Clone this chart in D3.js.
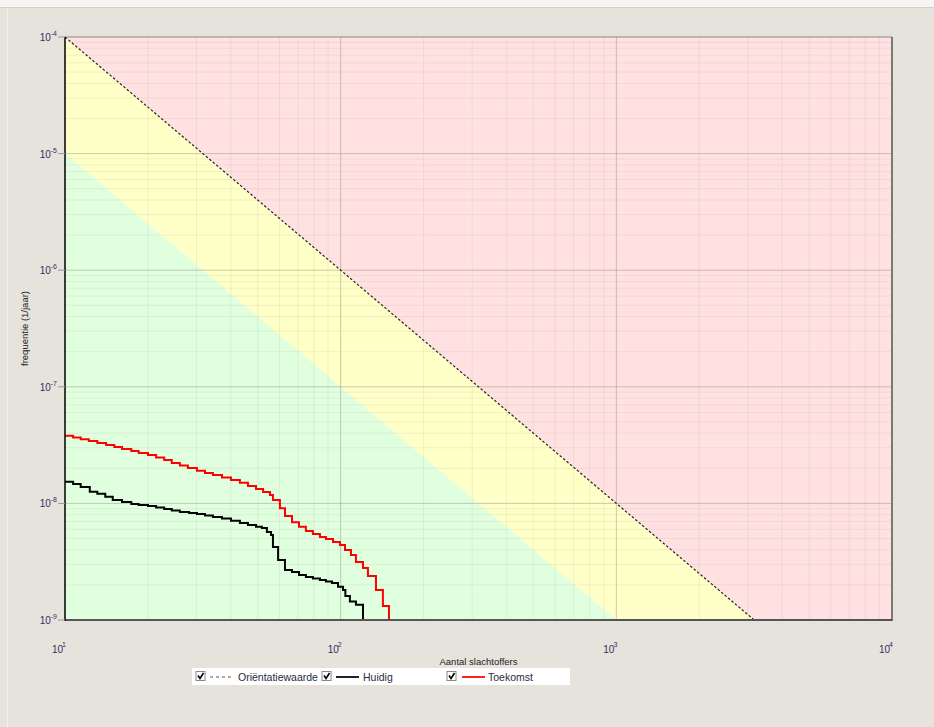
<!DOCTYPE html>
<html>
<head>
<meta charset="utf-8">
<script src="https://cdn.jsdelivr.net/npm/d3@7"></script>
<style>
  html, body { margin: 0; padding: 0; background: #e6e3dd; }
  svg { display: block; font-family: "Liberation Sans", Arial, sans-serif; }
</style>
</head>
<body>
<svg width="934" height="727"></svg>
<script>
// FN curve: aantal slachtoffers (N) vs frequentie (F, per jaar)

const xDecades = [10, 100, 1000, 10000];
const yDecades = [1e-9, 1e-8, 1e-7, 1e-6, 1e-5, 1e-4];
const xTickLabels = ["1", "2", "3", "4"];
const yTickLabels = ["-9", "-8", "-7", "-6", "-5", "-4"];

// zone limits (straight lines in log-log space, slope -2)
const orientatieN = [10, 3162.3];
const orientatieF = [1e-4, 1e-9];
const groenN = [10, 1000];
const groenF = [1e-5, 1e-9];

// Huidig (black step curve)
const huidigN = [10, 10.7, 11.4, 12.3, 13.1, 14.0, 14.9, 16.1, 17.4, 18.5, 20.0, 21.4, 22.9, 24.4,
  26.1, 28.2, 30.1, 32.2, 34.4, 37.1, 40.0, 43.1, 46.1, 49.3, 51.8, 54.0, 55.9, 56.8, 59.3,
  62.8, 66.6, 70.6, 74.8, 79.3, 84.1, 88.4, 93.0, 97.8, 102, 104, 108, 113.6, 120.5];
const huidigF = [1.53e-8, 1.47e-8, 1.38e-8, 1.26e-8, 1.21e-8, 1.14e-8, 1.07e-8, 1.03e-8, 9.9e-9,
  9.7e-9, 9.5e-9, 9.2e-9, 8.95e-9, 8.7e-9, 8.45e-9, 8.28e-9, 8.1e-9, 7.87e-9, 7.64e-9, 7.42e-9,
  7.11e-9, 6.79e-9, 6.53e-9, 6.31e-9, 6.15e-9, 5.69e-9, 5.36e-9, 4.23e-9, 3.27e-9, 2.68e-9,
  2.58e-9, 2.43e-9, 2.34e-9, 2.27e-9, 2.20e-9, 2.14e-9, 2.08e-9, 1.93e-9, 1.81e-9, 1.61e-9,
  1.44e-9, 1.35e-9, 1e-9];

// Toekomst (red step curve)
const toekomstN = [10, 10.7, 11.4, 12.2, 13.1, 14.1, 15.1, 16.1, 17.4, 18.5, 20.0, 21.4, 22.9,
  24.4, 26.1, 27.9, 30.1, 32.2, 34.4, 37.1, 40.0, 43.1, 46.1, 49.3, 52.3, 55.4, 56.8, 60.2,
  62.8, 66.6, 70.6, 74.8, 79.3, 84.1, 88.4, 93.8, 99.4, 103.7, 109, 113.6, 120.5, 125.6,
  134.3, 142.3, 149.7];
const toekomstF = [3.81e-8, 3.67e-8, 3.55e-8, 3.43e-8, 3.30e-8, 3.17e-8, 3.05e-8, 2.93e-8,
  2.81e-8, 2.70e-8, 2.60e-8, 2.48e-8, 2.36e-8, 2.22e-8, 2.11e-8, 2.01e-8, 1.91e-8, 1.82e-8,
  1.75e-8, 1.67e-8, 1.59e-8, 1.50e-8, 1.41e-8, 1.33e-8, 1.25e-8, 1.18e-8, 1.07e-8, 9.1e-9,
  7.8e-9, 6.9e-9, 6.3e-9, 5.8e-9, 5.47e-9, 5.15e-9, 4.95e-9, 4.67e-9, 4.40e-9, 3.98e-9,
  3.61e-9, 3.14e-9, 2.79e-9, 2.38e-9, 1.81e-9, 1.32e-9, 1e-9];

const legendLabels = ["Oriëntatiewaarde", "Huidig", "Toekomst"];

const svg = d3.select("svg");
const pLeft = 65, pRight = 892, pTop = 37, pBottom = 620;

const x = d3.scaleLog().domain([10, 10000]).range([pLeft, pRight]);
const y = d3.scaleLog().domain([1e-9, 1e-4]).range([pBottom, pTop]);

// window chrome
svg.append("rect").attr("x", 0).attr("y", 0).attr("width", 934).attr("height", 7).attr("fill", "#f6f5f3");
svg.append("line").attr("x1", 0).attr("x2", 934).attr("y1", 7.5).attr("y2", 7.5).attr("stroke", "#d3d0ca");
svg.append("line").attr("x1", 7.5).attr("x2", 7.5).attr("y1", 8).attr("y2", 727).attr("stroke", "#f1efeb");

// zones
const g = svg.append("g");
g.append("rect")
  .attr("x", pLeft).attr("y", pTop)
  .attr("width", pRight - pLeft).attr("height", pBottom - pTop)
  .attr("fill", "#ffe1e2");

g.append("path")
  .attr("fill", "#ffffc8")
  .attr("d", d3.line()([
    [x(orientatieN[0]), y(orientatieF[0])],
    [x(orientatieN[1]), y(orientatieF[1])],
    [x(10), y(1e-9)]
  ]) + "Z");

g.append("path")
  .attr("fill", "#e0ffdf")
  .attr("d", d3.line()([
    [x(groenN[0]), y(groenF[0])],
    [x(groenN[1]), y(groenF[1])],
    [x(10), y(1e-9)]
  ]) + "Z");

// grid
const minorX = [], minorY = [];
xDecades.slice(0, -1).forEach(d => { for (let k = 2; k <= 9; k++) minorX.push(k * d); });
yDecades.slice(0, -1).forEach(d => { for (let k = 2; k <= 9; k++) minorY.push(k * d); });

const grid = svg.append("g");
grid.selectAll(".mx").data(minorX).join("line")
  .attr("x1", d => x(d)).attr("x2", d => x(d)).attr("y1", pTop).attr("y2", pBottom)
  .attr("stroke", "#b0a498").attr("stroke-opacity", 0.16);
grid.selectAll(".my").data(minorY).join("line")
  .attr("x1", pLeft).attr("x2", pRight).attr("y1", d => y(d)).attr("y2", d => y(d))
  .attr("stroke", "#b0a498").attr("stroke-opacity", 0.16);
grid.selectAll(".Mx").data(xDecades.slice(1, -1)).join("line")
  .attr("x1", d => x(d)).attr("x2", d => x(d)).attr("y1", pTop).attr("y2", pBottom)
  .attr("stroke", "#8c8070").attr("stroke-opacity", 0.42);
grid.selectAll(".My").data(yDecades.slice(1, -1)).join("line")
  .attr("x1", pLeft).attr("x2", pRight).attr("y1", d => y(d)).attr("y2", d => y(d))
  .attr("stroke", "#8c8070").attr("stroke-opacity", 0.42);

// orientatiewaarde line
svg.append("line")
  .attr("x1", x(orientatieN[0])).attr("y1", y(orientatieF[0]))
  .attr("x2", x(orientatieN[1])).attr("y2", y(orientatieF[1]))
  .attr("stroke", "#222").attr("stroke-width", 1.2)
  .attr("stroke-dasharray", "2.5,2");

// curves
const stepLine = d3.line()
  .x(d => x(d[0])).y(d => y(d[1]))
  .curve(d3.curveStepAfter);

svg.append("path")
  .datum(d3.zip(huidigN, huidigF))
  .attr("fill", "none").attr("stroke", "#000").attr("stroke-width", 2)
  .attr("d", stepLine);

svg.append("path")
  .datum(d3.zip(toekomstN, toekomstF))
  .attr("fill", "none").attr("stroke", "#ff0000").attr("stroke-width", 2)
  .attr("d", stepLine);

// frame
svg.append("line").attr("x1", pLeft).attr("x2", pRight).attr("y1", pTop).attr("y2", pTop)
  .attr("stroke", "#8a8580").attr("stroke-width", 1);
svg.append("line").attr("x1", pRight).attr("x2", pRight).attr("y1", pTop).attr("y2", pBottom)
  .attr("stroke", "#555").attr("stroke-width", 1.5);
svg.append("line").attr("x1", pLeft).attr("x2", pRight + 0.75).attr("y1", pBottom).attr("y2", pBottom)
  .attr("stroke", "#555").attr("stroke-width", 2);
svg.append("line").attr("x1", pLeft).attr("x2", pLeft).attr("y1", pTop).attr("y2", pBottom + 1)
  .attr("stroke", "#000").attr("stroke-width", 1.5);

// y ticks + labels
const yt = svg.append("g").selectAll("g").data(yDecades).join("g")
  .attr("transform", d => `translate(0,${y(d)})`);
yt.append("line").attr("x1", 58).attr("x2", pLeft).attr("stroke", "#999");
const ytx = yt.append("text")
  .attr("x", 57).attr("y", 4)
  .attr("text-anchor", "end")
  .attr("font-size", 10)
  .attr("fill", "#3d2a62");
ytx.append("tspan").text("10");
ytx.append("tspan").attr("dy", -5).attr("font-size", 7).text((d, i) => yTickLabels[i]);

// x labels
const xtx = svg.append("g").selectAll("text").data(xDecades).join("text")
  .attr("x", d => x(d) + 1).attr("y", 653)
  .attr("text-anchor", "end")
  .attr("font-size", 10)
  .attr("fill", "#3d2a62");
xtx.append("tspan").text("10");
xtx.append("tspan").attr("dy", -6).attr("dx", -1).attr("font-size", 7).text((d, i) => xTickLabels[i]);

// axis titles
svg.append("text")
  .attr("x", (pLeft + pRight) / 2).attr("y", 665)
  .attr("text-anchor", "middle")
  .attr("font-size", 9.5).attr("fill", "#222")
  .text("Aantal slachtoffers");

svg.append("text")
  .attr("transform", `translate(28,${(pTop + pBottom) / 2}) rotate(-90)`)
  .attr("text-anchor", "middle")
  .attr("font-size", 9.5).attr("fill", "#222")
  .text("frequentie (1/jaar)");

// legend
const legend = svg.append("g");
legend.append("rect")
  .attr("x", 192).attr("y", 668).attr("width", 378).attr("height", 17)
  .attr("fill", "#fff");

const legendItems = [
  { label: legendLabels[0], box: 196, color: "#555", dash: "3,3", lx: 210, tx: 238 },
  { label: legendLabels[1], box: 322, color: "#222", dash: null, lx: 336, tx: 363 },
  { label: legendLabels[2], box: 447, color: "#ff2020", dash: null, lx: 462, tx: 488 }
];

const li = legend.selectAll(".item").data(legendItems).join("g");
li.append("rect")
  .attr("x", d => d.box).attr("y", 671.5).attr("width", 9).attr("height", 9)
  .attr("fill", "#fff").attr("stroke", "#888");
li.append("path")
  .attr("d", d => `M${d.box + 2},${675.5} L${d.box + 4},${678.5} L${d.box + 7.5},${673}`)
  .attr("fill", "none").attr("stroke", "#000").attr("stroke-width", 1.6);
li.append("line")
  .attr("x1", d => d.lx).attr("x2", d => d.lx + 23)
  .attr("y1", 677).attr("y2", 677)
  .attr("stroke", d => d.color)
  .attr("stroke-width", d => d.dash ? 1 : 2)
  .attr("stroke-dasharray", d => d.dash);
li.append("text")
  .attr("x", d => d.tx).attr("y", 680.5)
  .attr("font-size", 10.5).attr("fill", "#2a2a3a")
  .text(d => d.label);
</script>
</body>
</html>
